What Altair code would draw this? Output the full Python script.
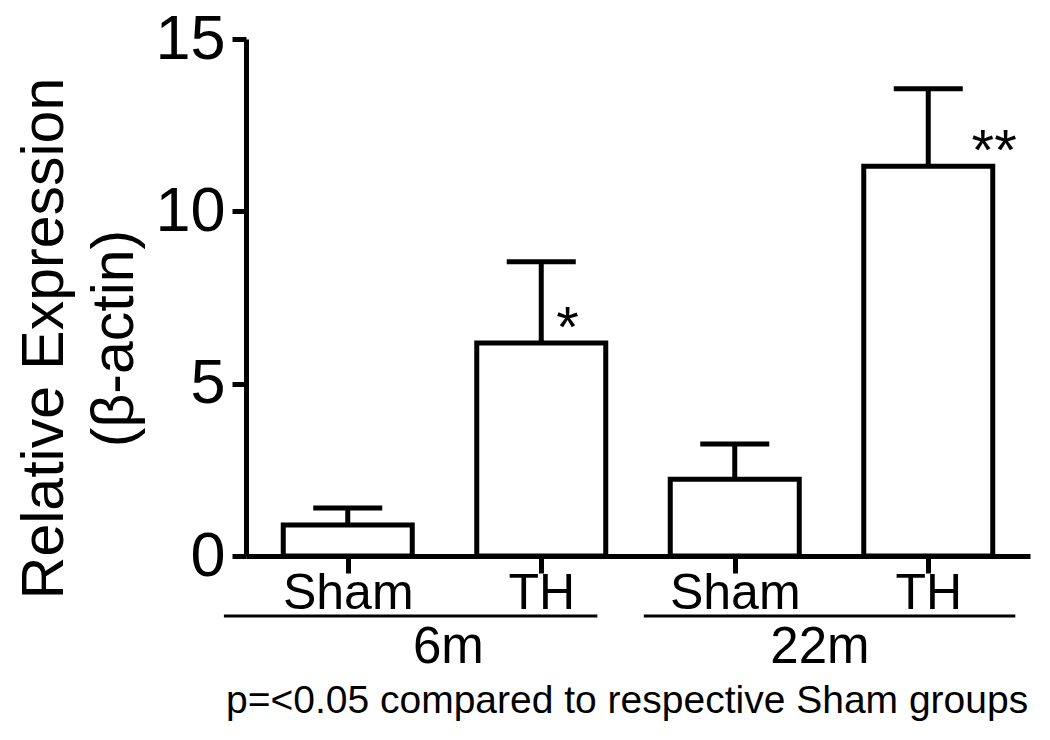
import json
import altair as alt
import pandas as pd

# ---- data ----
groups = ["Sham", "TH", "Sham", "TH"]
ages = ["6m", "6m", "22m", "22m"]
positions = [1, 2, 3, 4]
means = [0.90, 6.18, 2.23, 11.31]
uppers = [1.39, 8.54, 3.25, 13.56]

group_names = ["6m", "22m"]
group_start = [0.36, 2.53]
group_end = [2.29, 4.45]
group_label_x = [1.52, 3.44]

star_text = ["*", "**"]
star_x = [2.077, 4.224]
star_y = [6.18, 11.31]

y_ticks = [0, 5, 10, 15]
y_title = ["Relative Expression", "(β-actin)"]
footnote = ["p=<0.05 compared to respective Sham groups"]

FONT = "Liberation Sans"

bars_df = pd.DataFrame({"pos": positions, "group": groups, "age": ages,
                        "mean": means, "upper": uppers})
groups_df = pd.DataFrame({"name": group_names, "start": group_start,
                          "end": group_end, "lx": group_label_x})
stars_df = pd.DataFrame({"t": star_text, "x": star_x, "y": star_y})
foot_df = pd.DataFrame({"t": footnote})

x_scale = alt.Scale(domain=[0.5, 4.5], nice=False, zero=False)
y_scale = alt.Scale(domain=[0, 15], nice=False)

label_expr = json.dumps(groups) + "[datum.value - 1]"

x_axis = alt.Axis(values=positions, labelExpr=label_expr, title=None, grid=False,
                  domainColor="black", domainWidth=5, tickColor="black",
                  tickWidth=5, tickSize=17, labelFont=FONT, labelFontSize=50,
                  labelColor="black", labelPadding=35, labelBaseline="alphabetic",
                  labelFlush=False, labelOverlap=False)
y_axis = alt.Axis(values=y_ticks, title=y_title, grid=False,
                  domainColor="black", domainWidth=5, tickColor="black",
                  tickWidth=5, tickSize=14, labelFont=FONT, labelFontSize=63,
                  labelColor="black", labelPadding=7, labelFlush=False,
                  labelOverlap=False,
                  titleFont=FONT, titleFontSize=59, titleFontWeight="normal",
                  titleColor="black", titleAngle=270, titleBaseline="alphabetic",
                  titleAlign="center", titleX=-184, titleY=299, titleLineHeight=70)

base = alt.Chart(bars_df)

bars = base.mark_bar(fill="white", stroke="black", strokeWidth=5, size=129).encode(
    x=alt.X("pos:Q", scale=x_scale, axis=x_axis),
    y=alt.Y("mean:Q", scale=y_scale, axis=y_axis),
)

stems = base.mark_rule(color="black", strokeWidth=5).encode(
    x=alt.X("pos:Q", scale=x_scale, axis=x_axis),
    y=alt.Y("mean:Q", scale=y_scale, axis=y_axis),
    y2="upper:Q",
)

caps = base.mark_tick(orient="horizontal", size=69, thickness=5,
                      color="black", opacity=1).encode(
    x=alt.X("pos:Q", scale=x_scale, axis=x_axis),
    y=alt.Y("upper:Q", scale=y_scale, axis=y_axis),
)

stars = alt.Chart(stars_df).mark_text(font=FONT, fontSize=58, align="left",
                                      baseline="alphabetic", dy=4,
                                      color="black").encode(
    x=alt.X("x:Q", scale=x_scale, axis=x_axis),
    y=alt.Y("y:Q", scale=y_scale, axis=y_axis),
    text="t:N",
)

glines = alt.Chart(groups_df).mark_rule(color="black", strokeWidth=3).encode(
    x=alt.X("start:Q", scale=x_scale, axis=x_axis),
    x2="end:Q",
    y=alt.value(577),
)

glabels = alt.Chart(groups_df).mark_text(font=FONT, fontSize=51, align="center",
                                         baseline="alphabetic",
                                         color="black").encode(
    x=alt.X("lx:Q", scale=x_scale, axis=x_axis),
    y=alt.value(624),
    text="name:N",
)

foot = alt.Chart(foot_df).mark_text(font=FONT, fontSize=39, align="left",
                                    baseline="alphabetic", color="black").encode(
    x=alt.value(-20),
    y=alt.value(674),
    text="t:N",
)

chart = alt.layer(bars, stems, caps, stars, glines, glabels, foot).properties(
    width=784,
    height=517,
    autosize=alt.AutoSizeParams(type="none"),
    padding={"left": 238, "top": 31, "right": 12, "bottom": 180},
    background="white",
).configure_view(stroke=None)

chart.save("out.html", embed_options={"renderer": "svg", "actions": False})
